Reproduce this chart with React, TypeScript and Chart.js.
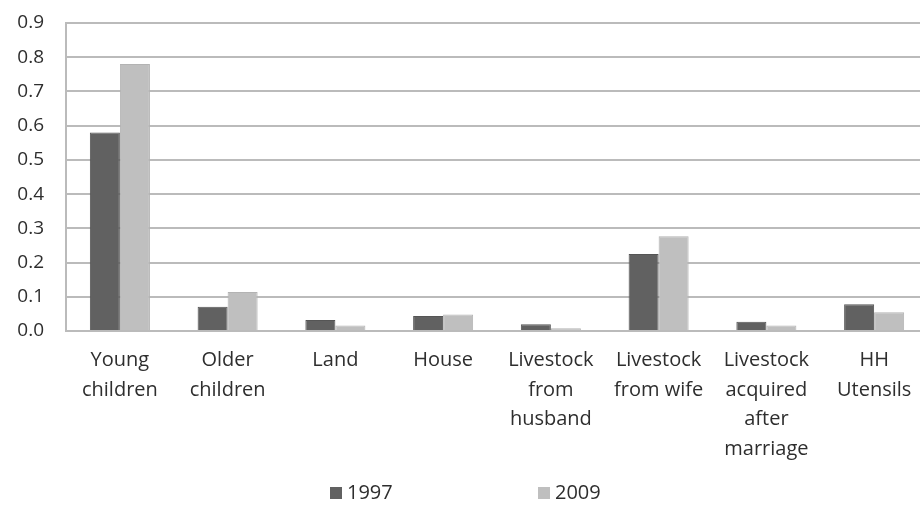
import React, { useEffect, useRef } from "react";
import { Chart, registerables } from "chart.js";

Chart.register(...registerables);

const categories: (string | string[])[] = [
  ["Young", "children"],
  ["Older", "children"],
  "Land",
  "House",
  ["Livestock", "from", "husband"],
  ["Livestock", "from wife"],
  ["Livestock", "acquired", "after", "marriage"],
  ["HH", "Utensils"],
];

const values1997 = [0.58, 0.071, 0.032, 0.044, 0.02, 0.225, 0.027, 0.078];
const values2009 = [0.78, 0.114, 0.016, 0.048, 0.008, 0.277, 0.016, 0.055];

const seriesLabels = ["1997", "2009"];
const seriesColors = ["#616161", "#bfbfbf"];
const seriesBorders = ["#555555", "#b3b3b3"];

const FONT = "'Open Sans', sans-serif";
const TEXT = "#2e2e2e";

const legendPlugin = {
  id: "customLegend",
  afterDraw(chart: any) {
    const ctx = chart.ctx;
    const cx = chart.width / 2;
    const y = 493;
    const offsets = [-135, 73];
    ctx.save();
    ctx.font = `20px ${FONT}`;
    ctx.textBaseline = "middle";
    ctx.textAlign = "left";
    chart.data.datasets.forEach((ds: any, i: number) => {
      const x = cx + offsets[i];
      ctx.fillStyle = ds.backgroundColor;
      ctx.fillRect(x, y - 6, 12, 12);
      ctx.fillStyle = TEXT;
      ctx.fillText(ds.label, x + 17, y);
    });
    ctx.restore();
  },
};

export default function App() {
  const ref = useRef<HTMLCanvasElement | null>(null);

  useEffect(() => {
    if (!ref.current) return;
    const chart = new Chart(ref.current, {
      type: "bar",
      data: {
        labels: categories,
        datasets: [
          {
            label: seriesLabels[0],
            data: values1997,
            backgroundColor: seriesColors[0],
            borderColor: seriesBorders[0],
            borderWidth: 1,
            barPercentage: 1,
            categoryPercentage: 0.557,
          },
          {
            label: seriesLabels[1],
            data: values2009,
            backgroundColor: seriesColors[1],
            borderColor: seriesBorders[1],
            borderWidth: 1,
            barPercentage: 1,
            categoryPercentage: 0.557,
          },
        ],
      },
      options: {
        responsive: false,
        animation: false,
        layout: { padding: { top: 23, right: 2, bottom: 27, left: 0 } },
        plugins: {
          legend: { display: false },
          tooltip: { enabled: false },
        },
        scales: {
          x: {
            grid: { display: false, drawTicks: false },
            border: { display: false },
            afterFit: (scale: any) => {
              scale.paddingTop = 0;
              scale.paddingBottom = 0;
            },
            ticks: {
              autoSkip: false,
              maxRotation: 0,
              padding: 15,
              color: TEXT,
              font: { family: FONT, size: 20, lineHeight: 1.475 },
            },
          },
          y: {
            min: 0,
            max: 0.9,
            afterFit: (scale: any) => {
              scale.width = 66;
              scale.paddingTop = 0;
              scale.paddingBottom = 0;
            },
            grid: { color: "#bbbbbb", lineWidth: 2, drawTicks: false },
            border: { display: true, color: "#bbbbbb", width: 2 },
            ticks: {
              stepSize: 0.1,
              padding: 22,
              color: TEXT,
              font: { family: FONT, size: 19 },
              callback: (v: any) => Number(v).toFixed(1),
            },
          },
        },
      },
      plugins: [legendPlugin],
    });
    return () => chart.destroy();
  }, []);

  return (
    <div
      style={{
        position: "fixed",
        left: 0,
        top: 0,
        width: 920,
        height: 506,
        overflow: "hidden",
        background: "#ffffff",
      }}
    >
      <canvas ref={ref} width={930} height={506} style={{ display: "block" }} />
    </div>
  );
}
